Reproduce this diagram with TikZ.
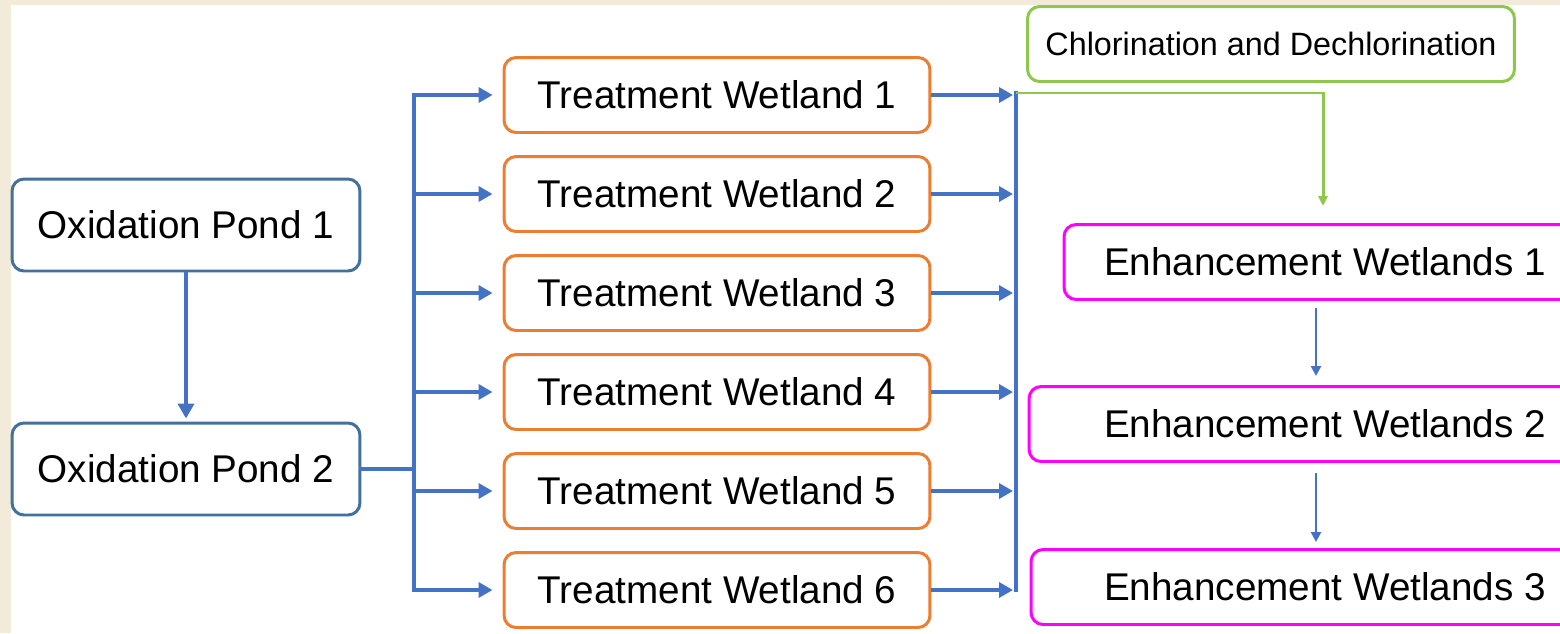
\documentclass[tikz,border=0pt]{standalone}
\usepackage{fontspec}
\setmainfont{Liberation Sans}
\usetikzlibrary{arrows.meta,calc}

\definecolor{pondblue}{RGB}{65,113,156}
\definecolor{flowblue}{RGB}{68,114,196}
\definecolor{wetorange}{RGB}{237,125,49}
\definecolor{chlgreen}{RGB}{140,200,75}
\definecolor{enhmagenta}{RGB}{255,0,255}
\definecolor{paper}{RGB}{243,235,217}

\begin{document}
\begin{tikzpicture}[x=0.02cm,y=-0.02cm]
	\tikzstyle{box} = [draw, rounded corners=0.24cm, line width=1.7pt, fill=white, inner sep=0pt, font=\fontsize{22}{26}\selectfont]
	\tikzstyle{pond} = [box, draw=pondblue, minimum width=6.96cm, minimum height=1.84cm]
	\tikzstyle{wetland} = [box, draw=wetorange, minimum width=8.52cm, minimum height=1.5cm]
	\tikzstyle{enhance} = [box, draw=enhmagenta, minimum height=1.5cm]
	\tikzstyle{chlor} = [box, draw=chlgreen, minimum width=9.74cm, minimum height=1.5cm, font=\fontsize{18.4}{22}\selectfont]
	\tikzstyle{bus} = [flowblue, line width=2.7pt, line cap=rect]
	\tikzstyle{flow} = [flowblue, line width=2.7pt, -{Triangle[length=0.28cm,width=0.3cm]}]
	\tikzstyle{pondflow} = [flowblue, line width=2.4pt, -{Triangle[length=0.3cm,width=0.32cm]}]
	\tikzstyle{thinflow} = [flowblue, line width=1.6pt, -{Triangle[length=0.2cm,width=0.2cm]}]
	\useasboundingbox (0,0) rectangle (1560,633);
	\clip (0,0) rectangle (1560,633);
	\fill[paper] (0,0) rectangle (1560,633);
	\fill[white] (11,5) rectangle (1560,633);
	% ponds
	\node[pond] (op1) at (186,225) {Oxidation Pond 1};
	\node[pond] (op2) at (186,469) {Oxidation Pond 2};
	% treatment wetlands
	\foreach \i/\y in {1/95,2/194,3/293,4/392,5/491,6/590}
		\node[wetland] (tw\i) at (717,\y) {Treatment Wetland \i};
	\node[chlor] (chl) at (1271,44) {Chlorination and Dechlorination};
	% enhancement wetlands
	\node[enhance, minimum width=10.44cm] (ew1) at (1325,262) {Enhancement Wetlands 1};
	\node[enhance, minimum width=11.84cm] (ew2) at (1325,424) {Enhancement Wetlands 2};
	\node[enhance, minimum width=11.76cm] (ew3) at (1325,587) {Enhancement Wetlands 3};
	\coordinate (split) at (414,469);
	\coordinate (join) at (1016,93);
	\draw[pondflow, shorten >=0.06cm] (op1.south) -- (op2.north);
	\draw[bus] (op2.east) -- (split);
	\draw[bus] (tw1.west -| split) -- (tw6.west -| split);
	\foreach \i in {1,...,6}
		\draw[flow, shorten >=0.2cm] (tw\i.west -| split) -- (tw\i.west);
	\draw[bus] (join) -- (tw6.east -| join);
	\foreach \i in {1,...,6}
		\draw[flow, shorten >=0.06cm] (tw\i.east) -- (tw\i.east -| join);
	\draw[chlgreen, line width=1.7pt, -{Triangle[length=0.2cm,width=0.18cm]}, shorten >=0.34cm] (join) -| ([xshift=-0.04cm]ew1.north);
	\draw[thinflow, shorten <=0.14cm, shorten >=0.18cm] ([xshift=-0.18cm]ew1.south) -- ([xshift=-0.18cm]ew2.north);
	\draw[thinflow, shorten <=0.2cm, shorten >=0.12cm] ([xshift=-0.18cm]ew2.south) -- ([xshift=-0.18cm]ew3.north);
\end{tikzpicture}
\end{document}
